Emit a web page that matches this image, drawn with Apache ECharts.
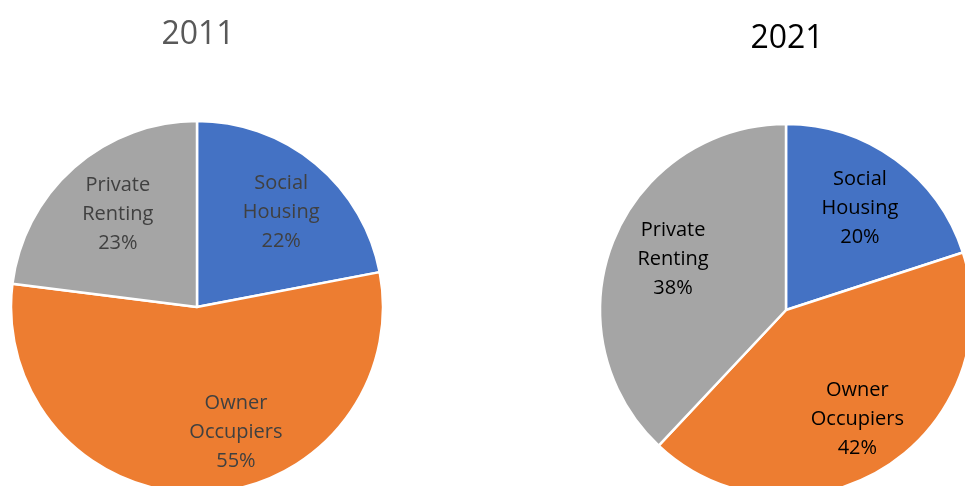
<!DOCTYPE html>
<html>
<head>
<meta charset="utf-8">
<script src="https://cdn.jsdelivr.net/npm/echarts@6/dist/echarts.min.js"></script>
<style>
  html, body { margin: 0; padding: 0; background: #fff; }
  #chart { width: 965px; height: 486px; }
</style>
</head>
<body>
<div id="chart"></div>
<script>
    // tenure shares
    var years = ['2011', '2021'];
    var tenures = ['Social\nHousing', 'Owner\nOccupiers', 'Private\nRenting'];
    var shares2011 = [22, 55, 23];
    var shares2021 = [20, 42, 38];
    var tenureColors = ['#4472C4', '#ED7D31', '#A5A5A5'];

    var R = 186;
    var fontFam = '"Open Sans", "DejaVu Sans", sans-serif';

    function pieData(values, offsets) {
        return values.map(function(v, i) {
            var item = { name: tenures[i], value: v, itemStyle: { color: tenureColors[i] } };
            if (offsets && offsets[i]) item.label = { offset: offsets[i] };
            return item;
        });
    }

    // slice layer + a transparent, larger copy that only carries the labels
    function pieSeries(values, center, textColor, offsets) {
        return [{
            type: 'pie',
            center: center,
            radius: [0, R],
            startAngle: 90,
            clockwise: true,
            silent: true,
            animation: false,
            itemStyle: { borderColor: '#ffffff', borderWidth: 2.5 },
            label: { show: false },
            labelLine: { show: false },
            data: pieData(values)
        }, {
            type: 'pie',
            center: center,
            radius: [0, R * 1.32],
            startAngle: 90,
            clockwise: true,
            silent: true,
            animation: false,
            itemStyle: { color: 'transparent', borderWidth: 0 },
            label: {
                show: true,
                position: 'inside',
                formatter: function(p) { return p.name + '\n' + p.value + '%'; },
                color: textColor,
                fontFamily: fontFam,
                fontSize: 20,
                lineHeight: 29
            },
            labelLine: { show: false },
            data: pieData(values, offsets).map(function(d) {
                d.itemStyle = { color: 'transparent' };
                return d;
            })
        }];
    }

    var chart = echarts.init(document.getElementById('chart'));
    var option = {
        backgroundColor: '#ffffff',
        title: [{
            text: years[0],
            left: 193,
            top: 14,
            textAlign: 'center',
            textStyle: { color: '#595959', fontFamily: fontFam, fontSize: 32, fontWeight: 'normal' }
        }, {
            text: years[1],
            left: 782,
            top: 18,
            textAlign: 'center',
            textStyle: { color: '#000000', fontFamily: fontFam, fontSize: 32, fontWeight: 'normal' }
        }],
        series: [].concat(
            pieSeries(shares2011, [197, 307], '#404040', [[4, 2], [35, 0], [4, 2]]),
            pieSeries(shares2021, [786, 310], '#000000', [null, [4, 3], [4, -4]])
        )
    };
    chart.setOption(option);
    window.addEventListener('resize', function() {
        chart.resize();
    });
</script>
</body>
</html>
